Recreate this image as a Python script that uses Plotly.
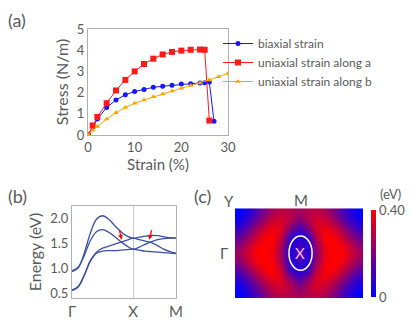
"""Stress-strain curves, band structure and gap map (three panels)."""

import plotly.graph_objects as go

# (a) stress-strain data
strain_biaxial = [0, 1, 2, 4, 6, 8, 10, 12, 14, 16, 18, 20, 22, 24, 25, 26, 27]
stress_biaxial = [0, 0.4, 0.75, 1.3, 1.65, 1.9, 2.05, 2.15, 2.25, 2.3, 2.35,
                  2.4, 2.42, 2.45, 2.47, 2.5, 0.65]
strain_uni_a = [0, 1, 2, 4, 6, 8, 10, 12, 14, 16, 18, 20, 22, 24, 25, 26]
stress_uni_a = [0, 0.45, 0.85, 1.5, 2.1, 2.6, 3.0, 3.35, 3.6, 3.8, 3.92, 3.98,
                4.02, 4.03, 4.02, 0.68]
strain_uni_b = [0, 1, 2, 4, 6, 8, 10, 12, 14, 16, 18, 20, 22, 24, 26, 28, 30]
stress_uni_b = [0, 0.22, 0.4, 0.75, 1.05, 1.3, 1.5, 1.65, 1.8, 1.93, 2.07, 2.2,
                2.33, 2.45, 2.6, 2.75, 2.9]

# (b) bands along Γ-X-M
k_path = [0, 0.1, 0.2, 0.3, 0.4, 0.5, 0.6, 0.7, 0.8, 0.9, 1.0,
          1.1, 1.2, 1.3, 1.4, 1.5, 1.6, 1.7]
k_ticks = [0, 1.0, 1.7]
k_labels = ["Γ", "X", "M"]
band_1 = [0.93, 1.0, 1.3, 1.7, 1.98, 2.05, 1.98, 1.85, 1.73, 1.64, 1.6,
          1.62, 1.64, 1.655, 1.65, 1.63, 1.61, 1.6]
band_2 = [0.95, 1.02, 1.25, 1.55, 1.73, 1.77, 1.72, 1.63, 1.53, 1.44, 1.38,
          1.42, 1.48, 1.53, 1.57, 1.59, 1.6, 1.6]
band_3 = [0.55, 0.62, 0.85, 1.15, 1.32, 1.4, 1.44, 1.48, 1.52, 1.56, 1.6,
          1.57, 1.54, 1.51, 1.45, 1.38, 1.33, 1.3]
band_4 = [0.56, 0.63, 0.86, 1.14, 1.3, 1.34, 1.35, 1.35, 1.36, 1.37, 1.38,
          1.36, 1.34, 1.33, 1.32, 1.31, 1.3, 1.29]

# (c) gap map (eV), rows bottom to top
gap_map = [
    [0.00, 0.05, 0.12, 0.20, 0.27, 0.30, 0.28, 0.25, 0.28, 0.30, 0.27, 0.20, 0.12, 0.05, 0.00],
    [0.03, 0.09, 0.17, 0.26, 0.32, 0.34, 0.28, 0.20, 0.28, 0.34, 0.32, 0.26, 0.17, 0.09, 0.03],
    [0.08, 0.15, 0.25, 0.33, 0.38, 0.34, 0.20, 0.10, 0.20, 0.34, 0.38, 0.33, 0.25, 0.15, 0.08],
    [0.15, 0.23, 0.32, 0.39, 0.40, 0.29, 0.08, 0.05, 0.08, 0.29, 0.40, 0.39, 0.32, 0.23, 0.15],
    [0.22, 0.30, 0.38, 0.40, 0.38, 0.24, 0.05, 0.10, 0.05, 0.24, 0.38, 0.40, 0.38, 0.30, 0.22],
    [0.26, 0.33, 0.40, 0.40, 0.37, 0.22, 0.05, 0.16, 0.05, 0.22, 0.37, 0.40, 0.40, 0.33, 0.26],
    [0.22, 0.30, 0.38, 0.40, 0.38, 0.24, 0.05, 0.10, 0.05, 0.24, 0.38, 0.40, 0.38, 0.30, 0.22],
    [0.15, 0.23, 0.32, 0.39, 0.40, 0.29, 0.08, 0.05, 0.08, 0.29, 0.40, 0.39, 0.32, 0.23, 0.15],
    [0.08, 0.15, 0.25, 0.33, 0.38, 0.34, 0.20, 0.10, 0.20, 0.34, 0.38, 0.33, 0.25, 0.15, 0.08],
    [0.03, 0.09, 0.17, 0.26, 0.32, 0.34, 0.28, 0.20, 0.28, 0.34, 0.32, 0.26, 0.17, 0.09, 0.03],
    [0.00, 0.05, 0.12, 0.20, 0.27, 0.30, 0.28, 0.25, 0.28, 0.30, 0.27, 0.20, 0.12, 0.05, 0.00],
]

FONT = "Lato"
GREY = "#5a5a5a"
FRAME = "#b0b0b0"
BAND_COLOR = "#3b4fa3"

W, H = 415, 324


def px_x(p):
    return p / W


def px_y(p):
    return 1 - p / H


fig = go.Figure()

fig.add_trace(go.Scatter(
    x=strain_biaxial, y=stress_biaxial, name="biaxial strain",
    mode="lines+markers", line=dict(color="#1515ff", width=1),
    marker=dict(symbol="circle", size=5, color="#1515ff"),
    xaxis="x", yaxis="y",
))
fig.add_trace(go.Scatter(
    x=strain_uni_a, y=stress_uni_a, name="uniaxial strain along a",
    mode="lines+markers", line=dict(color="#ff1a1a", width=1),
    marker=dict(symbol="square", size=6, color="#ff1a1a"),
    xaxis="x", yaxis="y",
))
fig.add_trace(go.Scatter(
    x=strain_uni_b, y=stress_uni_b, name="uniaxial strain along b",
    mode="lines+markers", line=dict(color="#ffa500", width=1),
    marker=dict(symbol="triangle-up", size=5, color="#ffa500"),
    xaxis="x", yaxis="y",
))

for band in [band_1, band_2, band_3, band_4]:
    fig.add_trace(go.Scatter(
        x=k_path, y=band, mode="lines", showlegend=False,
        line=dict(color=BAND_COLOR, width=1.3, shape="spline", smoothing=1),
        xaxis="x2", yaxis="y2",
    ))

fig.add_trace(go.Heatmap(
    z=gap_map, zmin=0, zmax=0.4, zsmooth="best",
    colorscale=[[0, "#0000ff"], [1, "#ff0000"]],
    xaxis="x3", yaxis="y3",
    colorbar=dict(
        x=px_x(371), xanchor="left", y=px_y(253.5), yanchor="middle",
        len=87 / H, lenmode="fraction", thickness=5, outlinewidth=0,
        xpad=0, ypad=0,
        tickmode="array", tickvals=[0, 0.4], ticktext=["0", "0.40"],
        ticks="", ticklabelposition="outside",
        tickfont=dict(family=FONT, size=13, color=GREY),
    ),
))

axis_common = dict(showline=True, mirror=True, linecolor=FRAME, linewidth=1,
                   zeroline=False, ticks="", automargin=False,
                   tickfont=dict(family=FONT, size=13, color=GREY))

fig.update_layout(
    width=W, height=H,
    margin=dict(l=0, r=0, t=0, b=0, pad=0, autoexpand=False),
    paper_bgcolor="white", plot_bgcolor="white",
    font=dict(family=FONT, color=GREY),
    xaxis=dict(domain=[px_x(88), px_x(228)], range=[0, 30],
               tickvals=[0, 10, 20, 30], showgrid=False,
               title=dict(text="Strain (%)", standoff=2,
                          font=dict(family=FONT, size=15, color=GREY)),
               **axis_common),
    yaxis=dict(domain=[px_y(135), px_y(29)], range=[0, 5],
               tickvals=[0, 1, 2, 3, 4, 5], showgrid=False,
               title=dict(text="Stress (N/m)", standoff=4,
                          font=dict(family=FONT, size=16, color=GREY)),
               **axis_common),
    xaxis2=dict(domain=[px_x(72), px_x(176)], range=[0, 1.7],
                tickvals=k_ticks, ticktext=k_labels, showgrid=True,
                gridcolor="#c8c8c8", gridwidth=1,
                tickfont=dict(family=FONT, size=15, color=GREY),
                anchor="y2",
                **{k: v for k, v in axis_common.items() if k != "tickfont"}),
    yaxis2=dict(domain=[px_y(298), px_y(206)], range=[0.4, 2.246],
                tickvals=[0.5, 1.0, 1.5, 2.0], tickformat=".1f",
                showgrid=False, anchor="x2",
                title=dict(text="Energy (eV)", standoff=4,
                           font=dict(family=FONT, size=16, color=GREY)),
                **axis_common),
    xaxis3=dict(domain=[px_x(235), px_x(363.5)], visible=False,
                anchor="y3", range=[-0.5, 14.5]),
    yaxis3=dict(domain=[px_y(298), px_y(208.3)], visible=False,
                anchor="x3", range=[-0.5, 10.5]),
    legend=dict(x=px_x(218), y=px_y(29), xanchor="left", yanchor="top",
                bgcolor="rgba(0,0,0,0)", itemwidth=30,
                font=dict(family=FONT, size=12, color=GREY)),
)

# white ellipse around X in panel (c)
fig.add_shape(type="circle", xref="x3", yref="y3",
              x0=5.8, x1=8.5, y0=2.9, y1=7.1,
              line=dict(color="white", width=1.5))

annotations = [
    dict(text="(a)", x=px_x(6), y=px_y(20), font_size=18),
    dict(text="(b)", x=px_x(6), y=px_y(196), font_size=18),
    dict(text="(c)", x=px_x(192), y=px_y(196), font_size=18),
    dict(text="Y", x=px_x(222), y=px_y(201), font_size=15),
    dict(text="M", x=px_x(292), y=px_y(200), font_size=15),
    dict(text="Γ", x=px_x(218), y=px_y(253), font_size=15),
    dict(text="(eV)", x=px_x(378), y=px_y(194), font_size=13),
]
for a in annotations:
    fig.add_annotation(xref="paper", yref="paper", showarrow=False,
                       xanchor="left", yanchor="middle",
                       text=a["text"], x=a["x"], y=a["y"],
                       font=dict(family=FONT, size=a["font_size"], color=GREY))

fig.add_annotation(xref="x3", yref="y3", x=7.1, y=5, text="X", showarrow=False,
                   font=dict(family=FONT, size=15, color="#f0b8f0"))

# red arrows marking the crossings
for tip, tail in [((0.81, 1.57), (0.77, 1.79)), ((1.26, 1.57), (1.31, 1.79))]:
    fig.add_annotation(xref="x2", yref="y2", axref="x2", ayref="y2",
                       x=tip[0], y=tip[1], ax=tail[0], ay=tail[1], text="",
                       showarrow=True, arrowhead=2, arrowsize=0.8,
                       arrowwidth=1.2, arrowcolor="red")

# drop the default page margin so the figure sits at the window corner
fig.write_html("out.html", config={"displayModeBar": False},
               post_script="document.body.style.margin='0';")
